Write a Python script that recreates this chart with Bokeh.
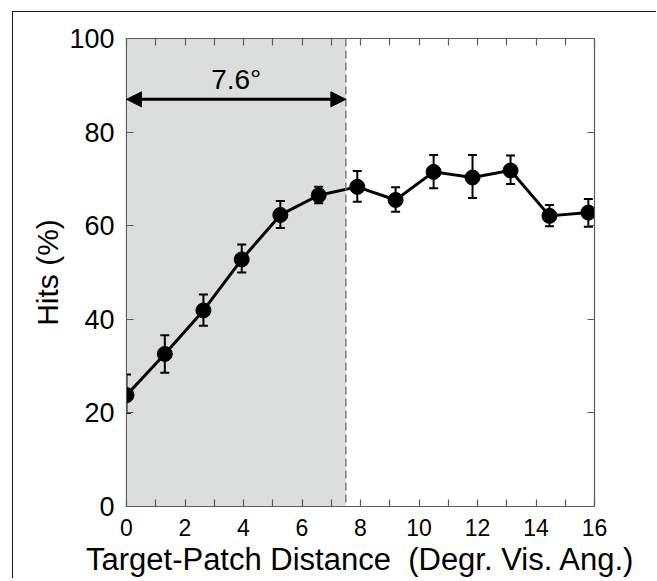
from bokeh.plotting import figure
from bokeh.models import (LinearAxis, FixedTicker, ColumnDataSource,
                          Arrow, NormalHead, Span, BoxAnnotation)
from bokeh.core.properties import value
from bokeh.embed import file_html
from bokeh.resources import INLINE

# ---- data ----
distance = [0.0, 1.31, 2.63, 3.94, 5.26, 6.57, 7.89, 9.2, 10.5, 11.83, 13.13, 14.46, 15.79]
hits = [23.8, 32.6, 41.9, 52.8, 62.3, 66.5, 68.3, 65.5, 71.5, 70.3, 71.8, 62.1, 62.8]
err_upper = [28.2, 36.6, 45.3, 56.0, 65.3, 68.3, 71.7, 68.2, 75.1, 75.1, 75.0, 64.4, 65.7]
err_lower = [20.0, 28.6, 38.6, 50.0, 59.5, 64.8, 65.1, 63.0, 68.0, 65.9, 68.9, 59.9, 59.8]
x_major_ticks = [0, 2, 4, 6, 8, 10, 12, 14, 16]
x_minor_ticks = [1, 3, 5, 7, 9, 11, 13, 15]
y_ticks = [0, 20, 40, 60, 80, 100]
patch_extent = 7.5
arrow_y = 87
arrow_label = "7.6°"
arrow_label_y = 88
x_label = "Target-Patch Distance \u00a0(Degr. Vis. Ang.)"
y_label = "Hits (%)"

FONT = "Liberation Sans"
AX = "#5a5a5a"

p = figure(width=644, height=567, x_range=(0, 16), y_range=(0, 100),
           output_backend="svg", toolbar_location=None,
           min_border_left=113, min_border_right=63, min_border_top=26, min_border_bottom=73,
           x_axis_location=None, y_axis_location=None)
p.styles = {"border-top": "1px solid #1a1a1a", "border-left": "1px solid #1a1a1a",
            "margin-left": "12px", "margin-top": "11px"}
p.xgrid.visible = False
p.ygrid.visible = False
p.outline_line_color = AX
p.outline_line_width = 1.2
p.background_fill_color = "white"

xt = FixedTicker(ticks=x_major_ticks, minor_ticks=x_minor_ticks)
yt = FixedTicker(ticks=y_ticks, minor_ticks=[])


def style_axis(ax, show_labels, font_size, standoff):
    ax.axis_line_color = AX
    ax.major_tick_line_color = AX
    ax.minor_tick_line_color = AX
    ax.major_tick_in = 7
    ax.major_tick_out = 0
    ax.minor_tick_in = 7
    ax.minor_tick_out = 0
    ax.major_tick_line_width = 1.2
    ax.minor_tick_line_width = 1.2
    if show_labels:
        ax.major_label_text_font = FONT
        ax.major_label_text_font_size = font_size
        ax.major_label_text_color = "black"
        ax.major_label_standoff = standoff
    else:
        ax.major_label_text_font_size = "0px"
        ax.major_label_text_color = None
        ax.major_label_standoff = 0


xb = LinearAxis(ticker=xt)
style_axis(xb, True, "23px", 12)
xb.axis_label = x_label
xb.axis_label_text_font = FONT
xb.axis_label_text_font_size = "31px"
xb.axis_label_text_font_style = "normal"
xb.axis_label_text_color = "black"
xb.axis_label_standoff = 3
p.add_layout(xb, "below")

xa = LinearAxis(ticker=xt)
style_axis(xa, False, "0px", 0)
p.add_layout(xa, "above")

yl = LinearAxis(ticker=yt)
style_axis(yl, True, "27px", 12)
yl.axis_label = y_label
yl.axis_label_text_font = FONT
yl.axis_label_text_font_size = "30px"
yl.axis_label_text_font_style = "normal"
yl.axis_label_text_color = "black"
yl.axis_label_standoff = 2
p.add_layout(yl, "left")

yr = LinearAxis(ticker=yt)
style_axis(yr, False, "0px", 0)
p.add_layout(yr, "right")

# shaded region
p.add_layout(BoxAnnotation(left=0, right=patch_extent, fill_color="#dcdddd", fill_alpha=1.0,
                           line_color=None, level="underlay"))
p.add_layout(Span(location=patch_extent, dimension="height", line_color="#7a7a7a",
                  line_width=1.5, line_dash="8 4"))

# arrow
p.add_layout(Arrow(x_start=0, y_start=arrow_y, x_end=patch_extent, y_end=arrow_y,
                   line_width=3, line_color="black",
                   start=NormalHead(size=15, fill_color="black", line_color="black"),
                   end=NormalHead(size=15, fill_color="black", line_color="black")))
p.text(x=[patch_extent / 2], y=[arrow_label_y], text=[arrow_label],
       text_font=value(FONT), text_font_size="28px",
       text_align="center", text_baseline="bottom", text_color="black")

src = ColumnDataSource(dict(x=distance, y=hits, upper=err_upper, lower=err_lower))
p.segment(x0="x", y0="lower", x1="x", y1="upper", source=src, line_color="black", line_width=2)
p.scatter("x", "upper", source=src, marker="dash", size=9, line_color="black", line_width=2)
p.scatter("x", "lower", source=src, marker="dash", size=9, line_color="black", line_width=2)
p.line("x", "y", source=src, line_color="black", line_width=3)
p.scatter("x", "y", source=src, size=15, marker="circle", fill_color="black", line_color="black")

open("out.html", "w").write(file_html(p, INLINE))
